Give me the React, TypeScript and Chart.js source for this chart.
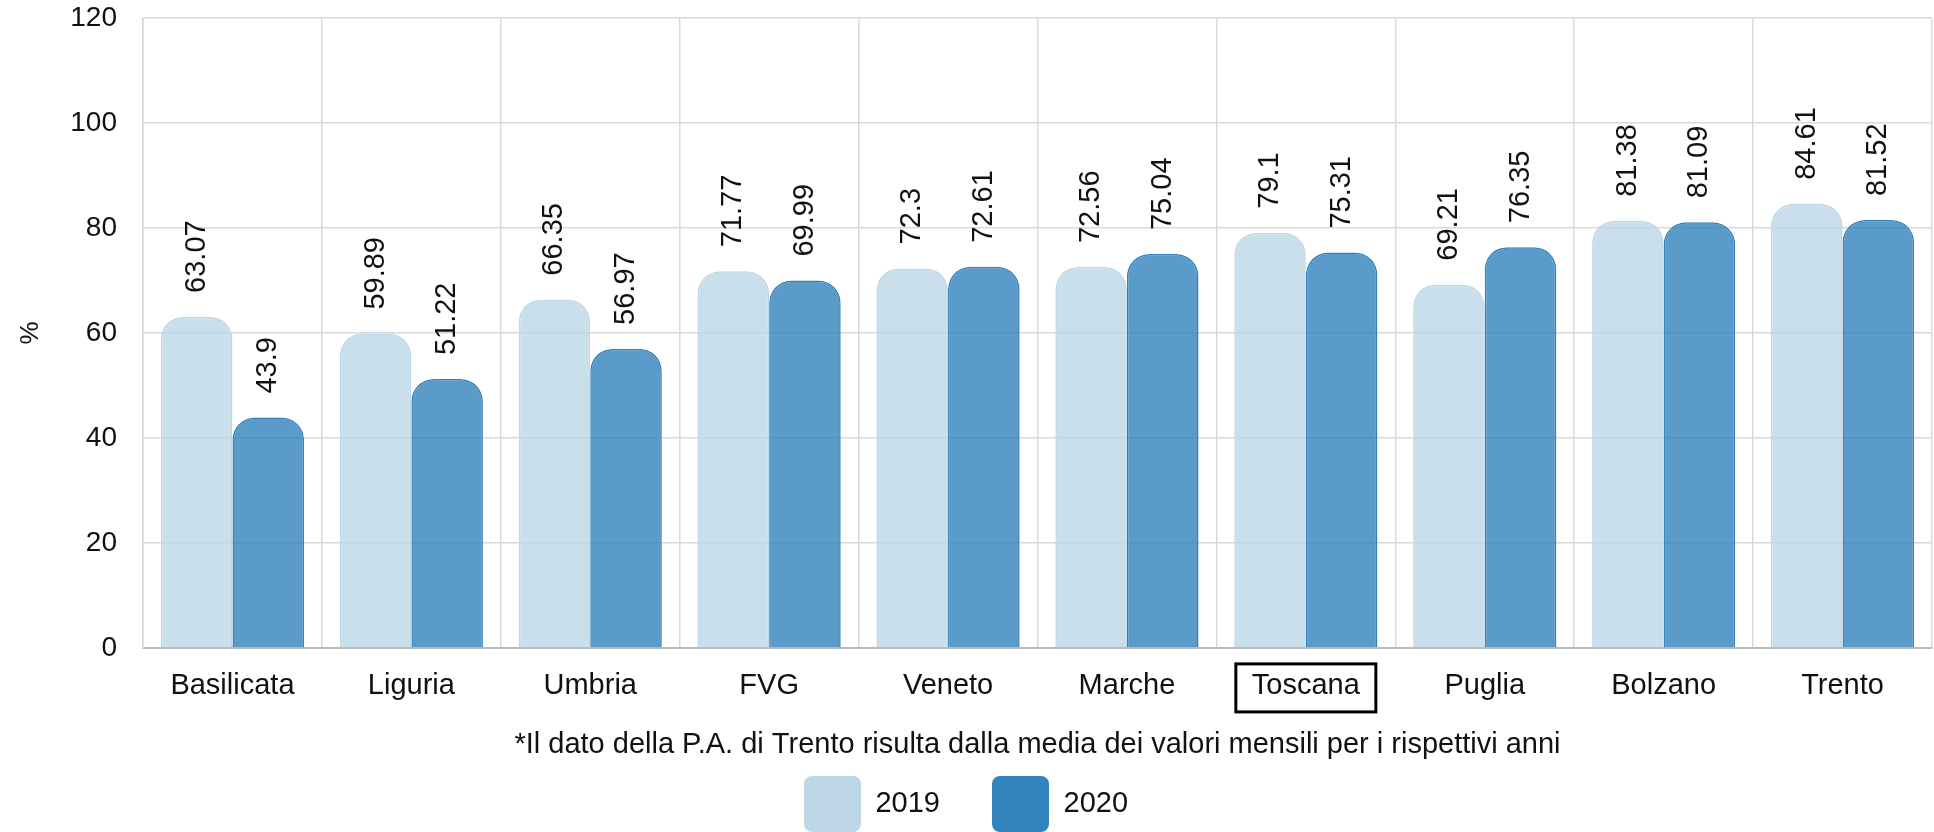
import React, { useEffect, useRef } from "react";
import { Chart, registerables } from "chart.js";

Chart.register(...registerables);

const categories = ["Basilicata", "Liguria", "Umbria", "FVG", "Veneto", "Marche", "Toscana", "Puglia", "Bolzano", "Trento"];
const values2019 = [63.07, 59.89, 66.35, 71.77, 72.3, 72.56, 79.1, 69.21, 81.38, 84.61];
const values2020 = [43.9, 51.22, 56.97, 69.99, 72.61, 75.04, 75.31, 76.35, 81.09, 81.52];
const seriesLabels = ["2019", "2020"];
const highlighted = "Toscana";
const yMin = 0;
const yMax = 120;
const yStep = 20;
const yTitle = "%";
const footnote = "*Il dato della P.A. di Trento risulta dalla media dei valori mensili per i rispettivi anni";

const FONT = "'Liberation Sans', Arial, Helvetica, sans-serif";
const solid = ["#bdd7e7", "#3182bd"];
const fills = ["rgba(189,215,231,0.8)", "rgba(49,130,189,0.8)"];
const TEXT = "#111";
const X_TICK_PAD = 20.5;
const X_FONT = 29;

const valueLabels = {
  id: "valueLabels",
  afterDatasetsDraw(chart: any) {
    const ctx = chart.ctx;
    ctx.save();
    ctx.font = `29px ${FONT}`;
    ctx.fillStyle = TEXT;
    ctx.textAlign = "left";
    ctx.textBaseline = "middle";
    chart.data.datasets.forEach((ds: any, di: number) => {
      const meta = chart.getDatasetMeta(di);
      meta.data.forEach((bar: any, i: number) => {
        ctx.save();
        ctx.translate(bar.x, bar.y - 24);
        ctx.rotate(-Math.PI / 2);
        ctx.fillText(String(ds.data[i]), 0, 0);
        ctx.restore();
      });
    });
    ctx.restore();
  },
};

const highlightBox = {
  id: "highlightBox",
  afterDraw(chart: any) {
    const xs = chart.scales.x;
    const idx = categories.indexOf(highlighted);
    if (idx < 0) return;
    const ctx = chart.ctx;
    ctx.save();
    ctx.font = `${X_FONT}px ${FONT}`;
    const w = ctx.measureText(highlighted).width;
    const cx = xs.getPixelForValue(idx);
    const cy = xs.top + X_TICK_PAD + (X_FONT * 1.2) / 2 + 2;
    ctx.strokeStyle = "#000";
    ctx.lineWidth = 3;
    ctx.strokeRect(cx - w / 2 - 16, cy - 24, w + 32, 48);
    ctx.restore();
  },
};

export default function App() {
  const ref = useRef<HTMLCanvasElement | null>(null);

  useEffect(() => {
    document.body.style.margin = "0";
    document.body.style.overflow = "hidden";
    const canvas = ref.current;
    if (!canvas) return;
    const chart = new Chart(canvas, {
      type: "bar",
      data: {
        labels: categories,
        datasets: [
          {
            label: seriesLabels[0],
            data: values2019,
            backgroundColor: fills[0],
            borderColor: solid[0],
            borderWidth: 1.5,
            borderSkipped: "bottom",
            borderRadius: { topLeft: 22, topRight: 22, bottomLeft: 0, bottomRight: 0 },
          },
          {
            label: seriesLabels[1],
            data: values2020,
            backgroundColor: fills[1],
            borderColor: solid[1],
            borderWidth: 1.5,
            borderSkipped: "bottom",
            borderRadius: { topLeft: 22, topRight: 22, bottomLeft: 0, bottomRight: 0 },
          },
        ],
      },
      options: {
        responsive: false,
        animation: false,
        devicePixelRatio: 1,
        layout: { padding: { top: 18, right: 2, bottom: -10, left: 0 } },
        datasets: { bar: { categoryPercentage: 0.8, barPercentage: 1.0 } },
        scales: {
          x: {
            grid: { color: "#d9d9d9", lineWidth: 1.5, drawTicks: false, offset: true },
            border: { color: "#bbbbbb", width: 2 },
            ticks: { font: { size: X_FONT, family: FONT }, color: TEXT, padding: X_TICK_PAD, maxRotation: 0 },
            title: {
              display: true,
              text: footnote,
              font: { size: 29, family: FONT },
              color: TEXT,
              padding: { top: 3.3, bottom: -37.9 },
            },
          },
          y: {
            min: yMin,
            max: yMax,
            grid: { color: "#d9d9d9", lineWidth: 1.5, drawTicks: false },
            border: { color: "#d9d9d9", width: 1.5 },
            ticks: { stepSize: yStep, font: { size: 28, family: FONT }, color: TEXT, padding: 26 },
            title: {
              display: true,
              text: yTitle,
              font: { size: 26, family: FONT },
              color: TEXT,
              padding: { top: 15, bottom: 0 },
            },
            afterFit: (scale: any) => {
              scale.width = 143;
              scale.paddingTop = 0;
              scale.paddingBottom = 0;
            },
          },
        },
        plugins: {
          legend: {
            position: "bottom",
            labels: {
              font: { size: 29, family: FONT },
              color: TEXT,
              boxWidth: 57,
              boxHeight: 56,
              padding: 52,
              useBorderRadius: true,
              borderRadius: 8,
              generateLabels: (ch: any) =>
                ch.data.datasets.map((ds: any, i: number) => ({
                  text: ds.label,
                  fillStyle: solid[i],
                  strokeStyle: solid[i],
                  lineWidth: 0,
                  hidden: false,
                  datasetIndex: i,
                  borderRadius: 8,
                  fontColor: TEXT,
                })),
            },
          },
          tooltip: { enabled: false },
        },
      },
      plugins: [valueLabels, highlightBox],
    });
    return () => chart.destroy();
  }, []);

  return (
    <div style={{ width: 1934, height: 832 }}>
      <canvas ref={ref} width={1934} height={832} style={{ display: "block" }} />
    </div>
  );
}
